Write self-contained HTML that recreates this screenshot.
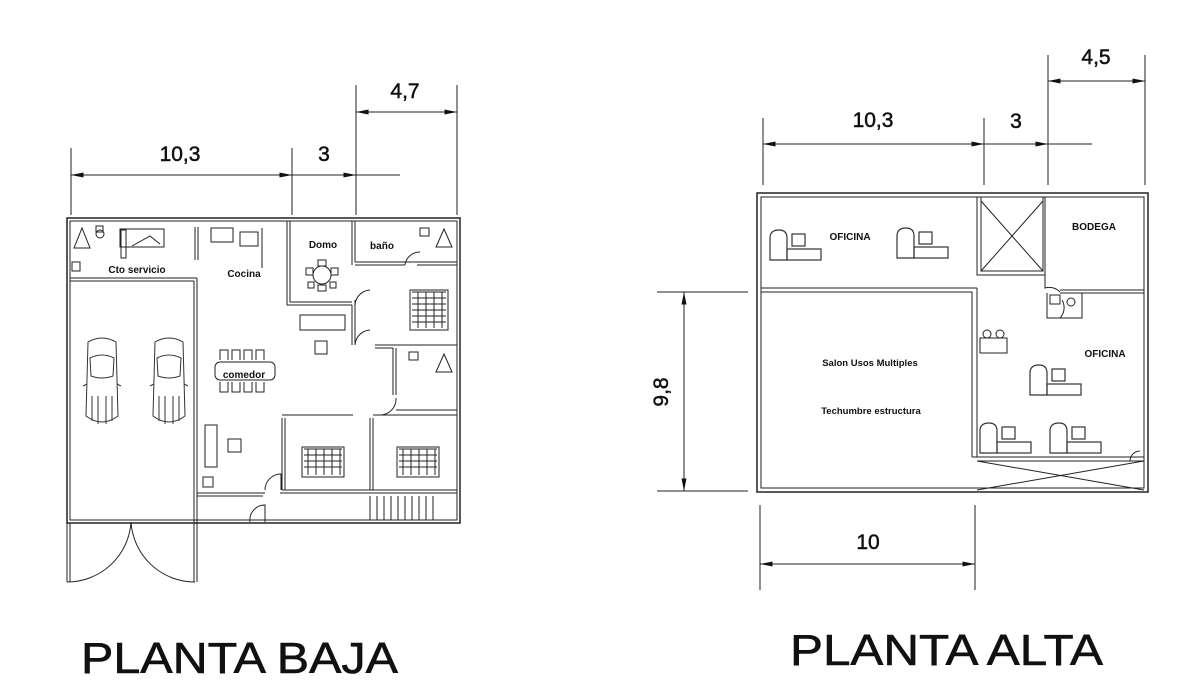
<!DOCTYPE html>
<html><head><meta charset="utf-8"><style>
html,body{margin:0;padding:0;background:#fff;width:1200px;height:700px;overflow:hidden}
svg{display:block}
text{font-family:"Liberation Sans",Arial,sans-serif;fill:#111}
</style></head><body>
<svg width="1200" height="700" viewBox="0 0 1200 700" xmlns="http://www.w3.org/2000/svg">
<defs>
<marker id="a" viewBox="0 0 10 4" refX="10" refY="2" markerWidth="14" markerHeight="5" orient="auto-start-reverse" markerUnits="userSpaceOnUse"><path d="M0,0 L10,2 L0,4z" fill="#111"/></marker>
<g id="desk" fill="none" stroke="#333" stroke-width="1.2">
<path d="M0,30 V8 Q0,0 9,0 Q17,0 17,8 V30 Z"/><rect x="17" y="19" width="34" height="11"/><rect x="22" y="4" width="13" height="12"/></g>
<g id="car" fill="none" stroke="#333" stroke-width="1">
<path d="M4,6 Q18,-2 32,6 L34,80 Q18,92 2,80 Z"/><path d="M6,22 Q18,16 30,22 L29,40 Q18,44 7,40 Z"/><path d="M3,48 L-1,50 M33,48 L37,50"/><path d="M8,60 L8,85 M14,60 L14,88 M22,60 L22,88 M28,60 L28,85"/></g>
</defs>
<g stroke="#222" stroke-width="1" fill="none">
<line x1="71" y1="148" x2="71" y2="215"/><line x1="292" y1="148" x2="292" y2="215"/><line x1="356" y1="85" x2="356" y2="215"/><line x1="457" y1="85" x2="457" y2="215"/>
<line x1="71" y1="175" x2="292" y2="175" marker-start="url(#a)" marker-end="url(#a)"/>
<line x1="292" y1="175" x2="356" y2="175" marker-end="url(#a)"/><line x1="356" y1="175" x2="400" y2="175"/>
<line x1="356" y1="112" x2="457" y2="112" marker-start="url(#a)" marker-end="url(#a)"/>
<rect x="67" y="218" width="393" height="305" stroke-width="1.5"/>
<rect x="70" y="221" width="387" height="299"/>
<line x1="70" y1="278" x2="197" y2="278"/><line x1="70" y1="281" x2="194" y2="281"/>
<line x1="194" y1="281" x2="194" y2="582"/><line x1="197" y1="278" x2="197" y2="582"/>
<line x1="67" y1="523" x2="67" y2="582"/><line x1="70" y1="523" x2="70" y2="582"/>
<path d="M67,582 A64,64 0 0 0 131,522 M195,582 A64,64 0 0 1 131,522"/>
<line x1="195" y1="227" x2="195" y2="260"/><line x1="198" y1="227" x2="198" y2="260"/>
<path d="M287,221 V305 H352 M290,221 V302 H352"/>
<path d="M352,221 V265 M355,221 V262 M355,265 H405 M417,265 H457 M355,262 H457"/>
<path d="M352,305 V345 M355,300 V345 M375,345 H457 M375,348 H393"/>
<path d="M393,348 V395 M396,348 V395 M396,410 H457 M393,415 H457"/>
<path d="M282,415 H353 M282,418 V490 M285,418 V490 M373,418 V490 M370,418 V490 M373,415 H457"/>
<path d="M282,490 H457 M197,493 H265 M280,493 H457 M197,496 H263"/>
<path d="M265,522 V505 A15,15 0 0 0 250,522 M281,490 V474 A16,16 0 0 0 265,490"/>
<path d="M355,305 A16,16 0 0 1 370,290 M405,265 A15,15 0 0 1 420,252"/>
<path d="M355,345 A16,16 0 0 1 370,330 M380,415 A16,16 0 0 0 396,398"/>
<g><path d="M370,496 V520 M377,496 V520 M384,496 V520 M391,496 V520 M398,496 V520 M405,496 V520 M412,496 V520 M419,496 V520 M426,496 V520 M433,496 V520"/></g>
<path d="M74,248 L82,228 L90,248 Z"/><rect x="72" y="262" width="8" height="9"/><circle cx="100" cy="234" r="4"/><rect x="96" y="226" width="7" height="6"/>
<rect x="120" y="229" width="44" height="18"/><rect x="121" y="230" width="5" height="28"/><path d="M132,246 L150,236 L160,244"/>
<rect x="211" y="228" width="22" height="14"/><rect x="240" y="232" width="18" height="14"/><path d="M262,228 V268"/>
<circle cx="322" cy="275" r="9"/>
<rect x="318" y="260" width="8" height="6"/><rect x="318" y="285" width="8" height="6"/><rect x="306" y="268" width="7" height="7"/><rect x="331" y="268" width="7" height="7"/><rect x="308" y="282" width="6" height="6"/><rect x="330" y="282" width="6" height="6"/>
<rect x="410" y="290" width="38" height="40"/><path d="M412,292 H446 M412,298 H446 M412,304 H446 M412,310 H446 M412,316 H446 M412,322 H446 M418,292 V328 M426,292 V328 M434,292 V328 M442,292 V328"/>
<rect x="300" y="315" width="45" height="15"/><rect x="315" y="341" width="12" height="13"/>
<rect x="215" y="362" width="60" height="18" rx="5"/>
<path d="M220,360 v-10 h8 v10 M232,360 v-10 h8 v10 M244,360 v-10 h8 v10 M256,360 v-10 h8 v10 M220,382 v10 h8 v-10 M232,382 v10 h8 v-10 M244,382 v10 h8 v-10 M256,382 v10 h8 v-10"/>
<rect x="205" y="425" width="12" height="42"/><rect x="228" y="439" width="13" height="13"/><rect x="203" y="477" width="10" height="10"/>
<rect x="302" y="447" width="42" height="30"/><rect x="397" y="447" width="42" height="30"/>
<path d="M304,449 H342 M304,455 H342 M304,461 H342 M304,467 H342 M308,449 V475 M316,449 V475 M324,449 V475 M332,449 V475 M340,449 V475"/>
<path d="M399,449 H437 M399,455 H437 M399,461 H437 M399,467 H437 M403,449 V475 M411,449 V475 M419,449 V475 M427,449 V475 M435,449 V475"/>
<path d="M436,247 L444,229 L452,247 Z M436,372 L444,354 L452,372 Z"/><rect x="420" y="228" width="9" height="8"/><rect x="409" y="352" width="9" height="8"/>
<use href="#car" x="84" y="336"/><use href="#car" x="151" y="336"/>
<line x1="763" y1="118" x2="763" y2="185"/><line x1="984" y1="118" x2="984" y2="185"/><line x1="1048" y1="55" x2="1048" y2="185"/><line x1="1145" y1="55" x2="1145" y2="185"/>
<line x1="763" y1="144" x2="984" y2="144" marker-start="url(#a)" marker-end="url(#a)"/>
<line x1="984" y1="144" x2="1048" y2="144" marker-end="url(#a)"/><line x1="1048" y1="144" x2="1092" y2="144"/>
<line x1="1048" y1="81" x2="1145" y2="81" marker-start="url(#a)" marker-end="url(#a)"/>
<line x1="657" y1="292" x2="748" y2="292"/><line x1="657" y1="491" x2="748" y2="491"/>
<line x1="684" y1="292" x2="684" y2="491" marker-start="url(#a)" marker-end="url(#a)"/>
<line x1="760" y1="505" x2="760" y2="590"/><line x1="975" y1="505" x2="975" y2="590"/>
<line x1="760" y1="564" x2="975" y2="564" marker-start="url(#a)" marker-end="url(#a)"/>
<rect x="757" y="193" width="391" height="299" stroke-width="1.5"/>
<rect x="761" y="197" width="383" height="291"/>
<path d="M761,288 H977 M761,292 H972 V457 M977,288 V457 M972,457 H1144 M977,461 H1144"/>
<path d="M977,197 V275 H1045 V197 M981,197 V271 H1043 V197 M981,201 L1043,271 M1043,201 L981,271"/>
<path d="M1045,271 V288 A15,15 0 0 1 1060,292 M1060,290 H1144 M1060,293 H1144"/>
<path d="M1047,293 V318 H1082 V293 M1047,318 H1060 A15,15 0 0 0 1062,300"/>
<rect x="1050" y="295" width="10" height="9"/><circle cx="1071" cy="302" r="4"/>
<path d="M977,461 L1144,490 M977,490 L1144,461 M1130,461 A10,10 0 0 1 1140,451"/>
<rect x="980" y="338" width="27" height="15"/><circle cx="987" cy="334" r="4"/><circle cx="1000" cy="334" r="4"/>
<use href="#desk" x="770" y="230"/><use href="#desk" x="897" y="228"/><use href="#desk" x="1030" y="365"/><use href="#desk" x="980" y="423"/><use href="#desk" x="1050" y="423"/>
</g>
<g font-size="21" text-anchor="middle" stroke="#111" stroke-width="0.5">
<text x="180" y="161">10,3</text><text x="324" y="161">3</text><text x="405" y="98">4,7</text>
<text x="873" y="127">10,3</text><text x="1016" y="128">3</text><text x="1096" y="64">4,5</text>
<text x="868" y="549">10</text>
<text transform="translate(668,392) rotate(-90)">9,8</text>
</g>
<g font-size="10" font-weight="bold" text-anchor="middle">
<text x="137" y="273">Cto servicio</text><text x="244" y="277">Cocina</text><text x="323" y="248">Domo</text><text x="382" y="249">baño</text>
<text x="244" y="378">comedor</text>
<text x="850" y="240">OFICINA</text><text x="1094" y="230">BODEGA</text><text x="1105" y="357">OFICINA</text>
<text x="870" y="366" font-size="9.5">Salon Usos Multiples</text><text x="871" y="414" font-size="9.5">Techumbre estructura</text>
</g>
<text x="81" y="673" font-size="44" textLength="317" lengthAdjust="spacingAndGlyphs" stroke="#111" stroke-width="0.6">PLANTA BAJA</text>
<text x="790" y="665" font-size="44" textLength="313" lengthAdjust="spacingAndGlyphs" stroke="#111" stroke-width="0.6">PLANTA ALTA</text>
</svg>
</body></html>
